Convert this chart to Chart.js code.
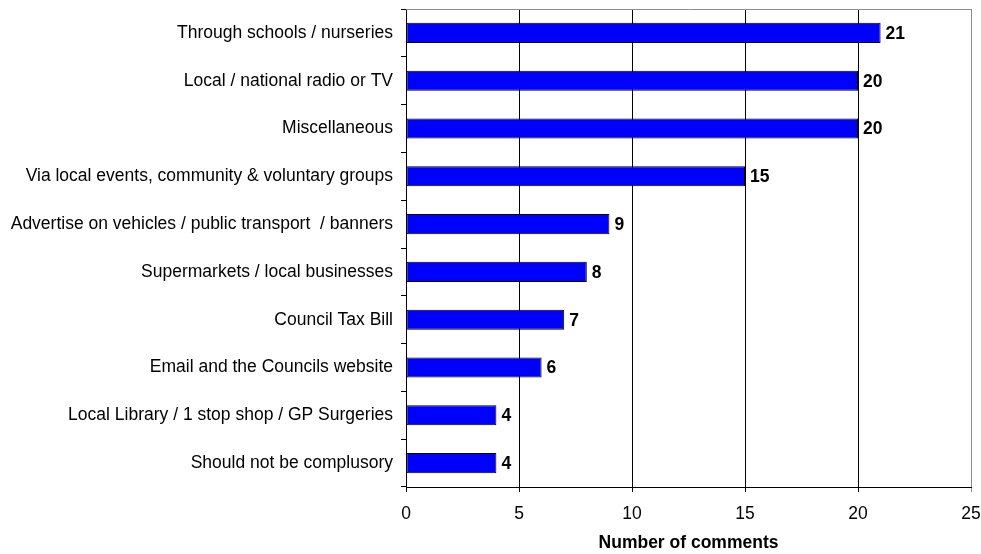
<!DOCTYPE html>
<html>
<head>
<meta charset="utf-8">
<script src="https://cdn.jsdelivr.net/npm/chart.js@4/dist/chart.umd.min.js"></script>
<style>
  html, body { margin: 0; padding: 0; background: #fff; }
  #wrap { width: 981px; height: 554px; }
</style>
</head>
<body>
<div id="wrap"><canvas id="chart" width="981" height="554"></canvas></div>
<script>
// comment sources, top to bottom
const categories = [
    "Through schools / nurseries",
    "Local / national radio or TV",
    "Miscellaneous",
    "Via local events, community & voluntary groups",
    "Advertise on vehicles / public transport  / banners",
    "Supermarkets / local businesses",
    "Council Tax Bill",
    "Email and the Councils website",
    "Local Library / 1 stop shop / GP Surgeries",
    "Should not be complusory"
];
const comments = [21, 20, 20, 15, 9, 8, 7, 6, 4, 4];
const xTicks = [0, 5, 10, 15, 20, 25];
const xTitle = "Number of comments";

const FONT = "Arial, 'Liberation Sans', sans-serif";
const SIZE = 17.5;

// value labels at the end of each bar + grey top/right frame
const barLabels = {
    id: "barLabels",
    afterDatasetsDraw(chart) {
        const c = chart.ctx;
        const area = chart.chartArea;
        c.save();
        c.strokeStyle = "#8c8c8c";
        c.lineWidth = 1;
        c.beginPath();
        c.moveTo(area.left, area.top + 0.5);
        c.lineTo(area.right + 0.5, area.top + 0.5);
        c.lineTo(area.right + 0.5, area.bottom);
        c.stroke();

        c.fillStyle = "#000";
        c.font = "bold " + SIZE + "px " + FONT;
        c.textAlign = "left";
        c.textBaseline = "middle";
        chart.getDatasetMeta(0).data.forEach((bar, i) => {
            c.fillText(String(comments[i]), bar.x + 5, bar.y + 1);
        });
        c.restore();
    }
};

new Chart(document.getElementById("chart"), {
    type: "bar",
    data: {
        labels: categories,
        datasets: [{
            data: comments,
            backgroundColor: "#0000ff",
            borderColor: "#000",
            borderWidth: 1,
            borderSkipped: false,
            categoryPercentage: 1,
            barPercentage: 0.42
        }]
    },
    options: {
        indexAxis: "y",
        responsive: false,
        animation: false,
        layout: { padding: { top: 9, right: 10, left: 0, bottom: 0 } },
        plugins: {
            legend: { display: false },
            tooltip: { enabled: false }
        },
        scales: {
            x: {
                min: 0,
                max: 25,
                afterBuildTicks: scale => { scale.ticks = xTicks.map(v => ({ value: v })); },
                afterFit: scale => {
                    scale.height = 67;
                    scale.paddingLeft = 0;
                    scale.paddingRight = 0;
                },
                border: { color: "#000", width: 1 },
                grid: {
                    color: ctx => (ctx.tick && ctx.tick.value === 25) ? "#8c8c8c" : "#000",
                    lineWidth: 1,
                    tickLength: 5,
                    drawTicks: true
                },
                ticks: {
                    color: "#000",
                    font: { family: FONT, size: SIZE },
                    padding: 12,
                    maxRotation: 0
                },
                title: {
                    display: true,
                    text: xTitle,
                    color: "#000",
                    font: { family: FONT, size: SIZE, weight: "bold" },
                    padding: { top: 4, bottom: 0 }
                }
            },
            y: {
                afterFit: scale => {
                    scale.width = 406;
                    scale.paddingTop = 0;
                    scale.paddingBottom = 0;
                },
                border: { color: "#000", width: 1 },
                grid: {
                    offset: true,
                    drawOnChartArea: false,
                    color: "#000",
                    tickLength: 5
                },
                ticks: {
                    color: "#000",
                    font: { family: FONT, size: SIZE },
                    padding: 8,
                    autoSkip: false
                }
            }
        }
    },
    plugins: [barLabels]
});
</script>
</body>
</html>
